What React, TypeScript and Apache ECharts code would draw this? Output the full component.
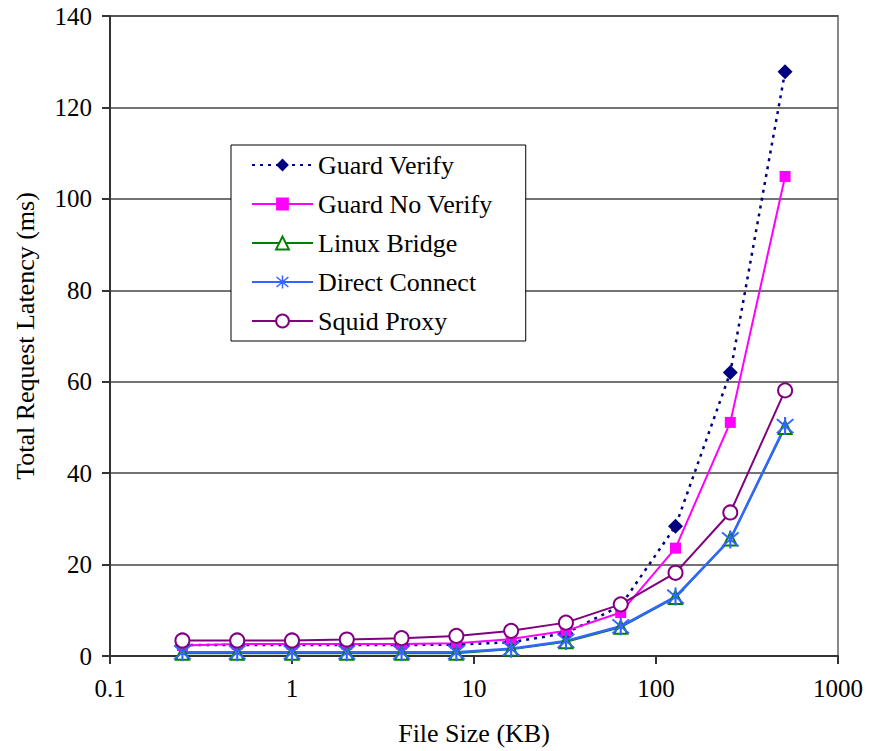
import React, { useEffect, useRef } from "react";
import * as echarts from "echarts";

const fileSizes = [0.25, 0.5, 1, 2, 4, 8, 16, 32, 64, 128, 256, 512];
const guardVerify = [2.4, 2.4, 2.4, 2.4, 2.4, 2.5, 3.0, 5.0, 11.0, 28.4, 62.0, 127.8];
const guardNoVerify = [2.3, 2.6, 2.6, 2.6, 2.6, 2.8, 3.7, 5.5, 9.5, 23.6, 51.1, 104.9];
const linuxBridge = [0.6, 0.6, 0.6, 0.6, 0.6, 0.6, 1.5, 3.1, 6.3, 12.8, 25.6, 50.0];
const directConnect = [0.8, 0.8, 0.8, 0.8, 0.8, 0.8, 1.6, 3.3, 6.5, 13.0, 25.5, 50.3];
const squidProxy = [3.4, 3.4, 3.4, 3.6, 3.9, 4.4, 5.5, 7.3, 11.3, 18.2, 31.4, 58.1];

const FONT = "Liberation Serif";

const asterisk =
  "path://M9,0 L11,0 L11,20 L9,20 Z M1.5,2.9 L2.9,1.5 L18.5,17.1 L17.1,18.5 Z M17.1,1.5 L18.5,2.9 L2.9,18.5 L1.5,17.1 Z";

function pairs(vals: number[]) {
  return fileSizes.map((x, i) => [x, vals[i]]);
}

export default function App() {
  const ref = useRef<HTMLDivElement>(null);
  useEffect(() => {
    document.body.style.margin = "0";
    const chart = echarts.init(ref.current!, undefined, { renderer: "svg" });
    chart.setOption({
      animation: false,
      backgroundColor: "#ffffff",
      grid: {
        left: 110,
        right: 31,
        top: 16,
        bottom: 94,
        show: true,
        borderColor: "#888888",
        borderWidth: 2,
        backgroundColor: "transparent",
      },
      legend: {
        left: 231,
        top: 145,
        orient: "vertical",
        padding: [7, 33, 7, 20],
        itemGap: 13,
        itemWidth: 61,
        itemHeight: 16,
        borderColor: "#000",
        borderWidth: 1,
        backgroundColor: "#fff",
        textStyle: { fontFamily: FONT, fontSize: 26, color: "#000", padding: [0, 0, 0, 0] },
        data: ["Guard Verify", "Guard No Verify", "Linux Bridge", "Direct Connect", "Squid Proxy"],
      },
      xAxis: {
        type: "log",
        logBase: 10,
        min: 0.1,
        max: 1000,
        name: "File Size (KB)",
        nameLocation: "middle",
        nameGap: 64,
        nameTextStyle: { fontFamily: FONT, fontSize: 26, color: "#000" },
        axisLine: { show: true, lineStyle: { color: "#333", width: 2 } },
        axisTick: { show: true, inside: false, length: 8, lineStyle: { color: "#333", width: 2 } },
        splitLine: { show: false },
        minorTick: { show: false },
        axisLabel: {
          fontFamily: FONT,
          fontSize: 25,
          color: "#000",
          margin: 20,
          formatter: (v: number) => String(Number(v.toPrecision(6))),
        },
      },
      yAxis: {
        type: "value",
        min: 0,
        max: 140,
        interval: 20,
        name: "Total Request Latency (ms)",
        nameLocation: "middle",
        nameGap: 72,
        nameTextStyle: { fontFamily: FONT, fontSize: 26, color: "#000" },
        axisLine: { show: true, lineStyle: { color: "#333", width: 2 } },
        axisTick: { show: true, inside: false, length: 8, lineStyle: { color: "#333", width: 2 } },
        splitLine: { show: true, lineStyle: { color: "#444", width: 1.5 } },
        axisLabel: { fontFamily: FONT, fontSize: 25, color: "#000", margin: 18 },
      },
      series: [
        {
          name: "Guard Verify",
          type: "line",
          data: pairs(guardVerify),
          symbol: "diamond",
          symbolSize: 15,
          color: "#000080",
          itemStyle: { color: "#000080" },
          lineStyle: { color: "#000080", width: 2.5, type: [3, 5] },
        },
        {
          name: "Guard No Verify",
          type: "line",
          data: pairs(guardNoVerify),
          symbol: "rect",
          symbolSize: 11,
          color: "#FF00FF",
          itemStyle: { color: "#FF00FF" },
          lineStyle: { color: "#FF00FF", width: 2 },
        },
        {
          name: "Linux Bridge",
          type: "line",
          data: pairs(linuxBridge),
          symbol: "emptyTriangle",
          symbolSize: 13,
          color: "#008000",
          itemStyle: { color: "#008000", borderWidth: 2 },
          lineStyle: { color: "#008000", width: 2 },
        },
        {
          name: "Direct Connect",
          type: "line",
          data: pairs(directConnect),
          symbol: asterisk,
          symbolSize: 18,
          color: "#3366FF",
          itemStyle: { color: "#3366FF" },
          lineStyle: { color: "#3366FF", width: 2.5 },
        },
        {
          name: "Squid Proxy",
          type: "line",
          data: pairs(squidProxy),
          symbol: "emptyCircle",
          symbolSize: 14,
          color: "#800080",
          itemStyle: { color: "#800080", borderWidth: 2 },
          lineStyle: { color: "#800080", width: 2 },
        },
      ],
    });
    return () => chart.dispose();
  }, []);
  return (
    <div
      ref={ref}
      style={{ width: 869, height: 751, position: "absolute", left: 0, top: 0 }}
    />
  );
}
